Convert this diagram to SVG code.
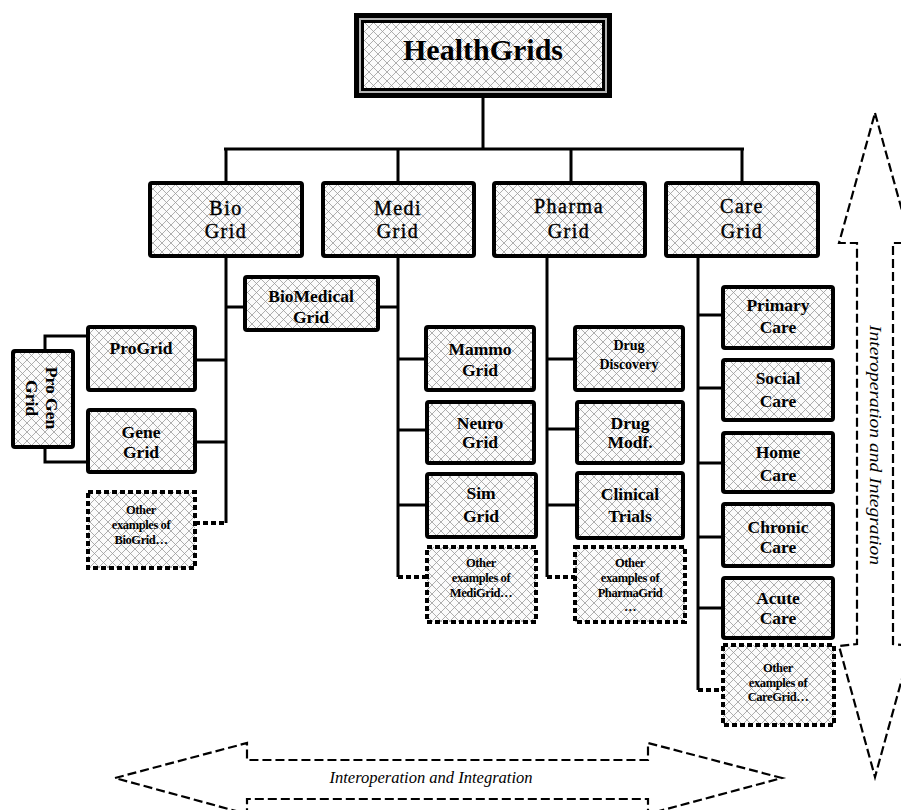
<svg xmlns="http://www.w3.org/2000/svg" width="901" height="810" viewBox="0 0 901 810">
<defs>
<pattern id="hatch" patternUnits="userSpaceOnUse" width="9" height="9">
<rect width="9" height="9" fill="#fbfbfb"/>
<path d="M0,0 L9,9 M9,0 L0,9" stroke="#9a9a9a" stroke-width="0.8"/>
</pattern>
</defs>
<style>
.box{fill:url(#hatch);stroke:#000;stroke-width:4;}
.dbox{fill:url(#hatch);stroke:#000;stroke-width:4;stroke-dasharray:5 3;}
.ln{stroke:#000;stroke-width:3;fill:none;}
.dln{stroke:#000;stroke-width:4;fill:none;stroke-dasharray:5 3;}
.arr{fill:none;stroke:#000;stroke-width:2.2;stroke-dasharray:9 4;}
.t1{font-family:"Liberation Serif",serif;font-size:20px;letter-spacing:1.5px;text-anchor:middle;fill:#000;stroke:#000;stroke-width:0.4;}
.t2{font-family:"Liberation Serif",serif;font-size:17.5px;font-weight:bold;text-anchor:middle;fill:#000;}
.t3{font-family:"Liberation Serif",serif;font-size:14px;font-weight:bold;text-anchor:middle;fill:#000;}
.t4{font-family:"Liberation Serif",serif;font-size:12.5px;font-weight:bold;letter-spacing:-0.4px;text-anchor:middle;fill:#000;}
.ti{font-family:"Liberation Serif",serif;font-style:italic;font-size:16px;text-anchor:middle;fill:#000;}
</style>

<g id="connectors">
<path class="ln" d="M483,98 V149 M224,149 H744 M226,149 V183 M398,149 V183 M571,149 V183 M742,149 V183"/>
<path class="ln" d="M226,256 V523 M195,360 H226 M195,442 H226 M226,307 H245"/>
<path class="ln" d="M45,351 V336 H88 M45,447 V462 H88"/>
<path class="ln" d="M398,256 V577 M378,307 H398 M398,359 H426 M398,430 H427 M398,505 H427"/>
<path class="ln" d="M547,256 V577 M547,359 H575 M547,429 H577 M547,505 H577"/>
<path class="ln" d="M698,256 V690 M698,315 H723 M698,388 H723 M698,463 H723 M698,537 H723 M698,608 H723"/>
<path class="dln" d="M195,523 H226 M398,577 H427 M547,577 H575 M698,690 H723"/>
</g>

<g id="healthgrids">
<rect x="354" y="13" width="258" height="85" fill="#000"/>
<rect x="359" y="18" width="248" height="75" fill="#b5b5b5"/>
<rect x="361" y="20" width="244" height="71" fill="#000"/>
<rect x="364" y="23" width="238" height="65" fill="url(#hatch)"/>
<text x="483" y="60" font-family="Liberation Serif, serif" font-size="30" font-weight="bold" text-anchor="middle">HealthGrids</text>
</g>

<g id="biogrid"><rect class="box" x="150" y="183" width="152" height="73" rx="2"/>
<text class="t1" x="226" y="215">Bio</text><text class="t1" x="226" y="238">Grid</text></g>
<g id="medigrid"><rect class="box" x="323" y="183" width="151" height="73" rx="2"/>
<text class="t1" x="398" y="215">Medi</text><text class="t1" x="398" y="238">Grid</text></g>
<g id="pharmagrid"><rect class="box" x="494" y="183" width="151" height="73" rx="2"/>
<text class="t1" x="569" y="213">Pharma</text><text class="t1" x="569" y="238">Grid</text></g>
<g id="caregrid"><rect class="box" x="666" y="183" width="152" height="73" rx="2"/>
<text class="t1" x="742" y="213">Care</text><text class="t1" x="742" y="238">Grid</text></g>

<g id="biomedicalgrid"><rect class="box" x="245" y="277" width="133" height="53" rx="2"/>
<text class="t2" x="311" y="302">BioMedical</text><text class="t2" x="311" y="323">Grid</text></g>

<g id="progrid"><rect class="box" x="88" y="327" width="107" height="63" rx="2"/>
<text class="t2" x="141" y="354">ProGrid</text></g>
<g id="genegrid"><rect class="box" x="88" y="410" width="107" height="62" rx="2"/>
<text class="t2" x="141" y="438">Gene</text><text class="t2" x="141" y="458">Grid</text></g>
<g id="progengrid"><rect class="box" x="13" y="351" width="60" height="96" rx="2"/>
<text class="t2" transform="translate(52,398) rotate(90)" y="6">Pro Gen</text>
<text class="t2" transform="translate(32,398) rotate(90)" y="6">Grid</text></g>
<g id="otherbio"><rect class="dbox" x="88" y="492" width="107" height="76"/>
<text class="t4" x="141" y="514">Other</text><text class="t4" x="141" y="529">examples of</text><text class="t4" x="141" y="544">BioGrid…</text></g>

<g id="mammogrid"><rect class="box" x="426" y="327" width="108" height="63" rx="2"/>
<text class="t2" x="480" y="355">Mammo</text><text class="t2" x="480" y="376">Grid</text></g>
<g id="neurogrid"><rect class="box" x="427" y="402" width="107" height="61" rx="2"/>
<text class="t2" x="480" y="429">Neuro</text><text class="t2" x="480" y="448">Grid</text></g>
<g id="simgrid"><rect class="box" x="427" y="474" width="109" height="63" rx="2"/>
<text class="t2" x="481" y="499">Sim</text><text class="t2" x="481" y="522">Grid</text></g>
<g id="othermedi"><rect class="dbox" x="427" y="547" width="109" height="75"/>
<text class="t4" x="481" y="567">Other</text><text class="t4" x="481" y="582">examples of</text><text class="t4" x="481" y="597">MediGrid…</text></g>

<g id="drugdiscovery"><rect class="box" x="575" y="327" width="108" height="63" rx="2"/>
<text class="t3" x="629" y="350">Drug</text><text class="t3" x="629" y="369">Discovery</text></g>
<g id="drugmodf"><rect class="box" x="577" y="402" width="106" height="61" rx="2"/>
<text class="t2" x="630" y="429">Drug</text><text class="t2" x="630" y="448">Modf.</text></g>
<g id="clinicaltrials"><rect class="box" x="577" y="473" width="106" height="65" rx="2"/>
<text class="t2" x="630" y="500">Clinical</text><text class="t2" x="630" y="522">Trials</text></g>
<g id="otherpharma"><rect class="dbox" x="575" y="547" width="110" height="75"/>
<text class="t4" x="630" y="567">Other</text><text class="t4" x="630" y="582">examples of</text><text class="t4" x="630" y="597">PharmaGrid</text><text class="t4" x="630" y="611">…</text></g>

<g id="primarycare"><rect class="box" x="723" y="287" width="110" height="61" rx="2"/>
<text class="t2" x="778" y="311">Primary</text><text class="t2" x="778" y="333">Care</text></g>
<g id="socialcare"><rect class="box" x="723" y="360" width="110" height="60" rx="2"/>
<text class="t2" x="778" y="384">Social</text><text class="t2" x="778" y="407">Care</text></g>
<g id="homecare"><rect class="box" x="723" y="433" width="110" height="59" rx="2"/>
<text class="t2" x="778" y="458">Home</text><text class="t2" x="778" y="481">Care</text></g>
<g id="chroniccare"><rect class="box" x="723" y="504" width="110" height="62" rx="2"/>
<text class="t2" x="778" y="533">Chronic</text><text class="t2" x="778" y="553">Care</text></g>
<g id="acutecare"><rect class="box" x="723" y="578" width="110" height="60" rx="2"/>
<text class="t2" x="778" y="604">Acute</text><text class="t2" x="778" y="624">Care</text></g>
<g id="othercare"><rect class="dbox" x="723" y="645" width="111" height="80"/>
<text class="t4" x="778" y="672">Other</text><text class="t4" x="778" y="687">examples of</text><text class="t4" x="778" y="701">CareGrid…</text></g>

<g id="vertical-arrow">
<path class="arr" d="M875,113 L911,243 L893,243 L893,644 L911,646 L875,777 L839,646 L857,644 L857,243 L839,243 Z"/>
<text class="ti" transform="translate(875,445) rotate(90)" y="5" textLength="240" lengthAdjust="spacingAndGlyphs">Interoperation and Integration</text>
</g>

<g id="horizontal-arrow">
<path class="arr" d="M115,778 L247,743 L247,760 L648,760 L648,743 L782,778 L648,814 L648,799 L247,799 L247,814 Z"/>
<text class="ti" x="431" y="783" textLength="203" lengthAdjust="spacingAndGlyphs">Interoperation and Integration</text>
</g>
</svg>
